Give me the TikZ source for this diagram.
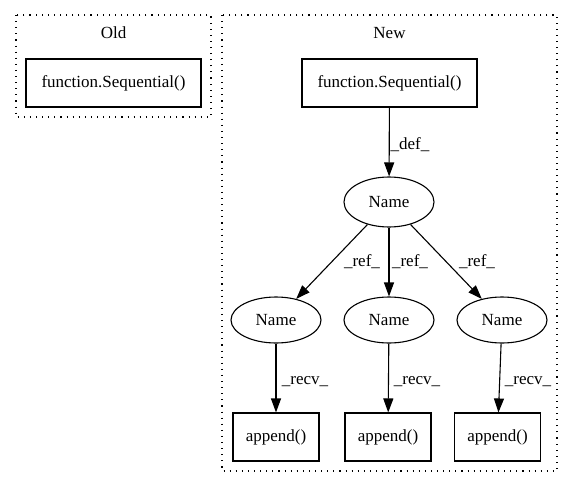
\documentclass[tikz,border=0pt]{standalone}
\usepackage{fontspec}
\setmainfont{Liberation Serif}
\usetikzlibrary{arrows.meta,shapes.geometric}
\begin{document}
\begin{tikzpicture}[x=1pt,y=-1pt,
  cluster/.style={draw,line width=1.1pt,dash pattern=on 1.1pt off 5pt},
  box/.style={draw,line width=1.1pt,rectangle,minimum height=48pt,inner sep=0pt,font=\fontsize{17}{20}\selectfont},
  oval/.style={draw,line width=1.1pt,ellipse,minimum width=90pt,minimum height=48pt,inner sep=0pt,font=\fontsize{17}{20}\selectfont},
  edge/.style={draw,line width=1.1pt,-{Triangle[length=14pt,width=10pt]}},
  lbl/.style={font=\fontsize{17}{20}\selectfont,inner sep=0pt},
  ttl/.style={font=\fontsize{17}{20}\selectfont,inner sep=0pt}]
\useasboundingbox (0,0) rectangle (573,488);
% clusters
\draw[cluster] (16,15) rectangle (211,117);
\node[ttl] (oldt) at (113.5,33) {Old};
\draw[cluster] (222,15) rectangle (557,471);
\node[ttl] (newt) at (389.5,33) {New};
% Old
\node[box,minimum width=175pt] (oldf) at (113.5,83) {function.Sequential()};
% New
\node[box,minimum width=175pt] (newf) at (389.5,83) {function.Sequential()};
\node[oval,minimum height=50pt] (n0) at (389,202) {Name};
\node[oval,minimum height=46pt] (n1) at (276,320) {Name};
\node[oval,minimum height=46pt] (n2) at (389,320) {Name};
\node[oval,minimum height=46pt] (n3) at (502,320) {Name};
\node[box,minimum width=86pt] (a1) at (276,437) {append()};
\node[box,minimum width=86pt] (a2) at (388,437) {append()};
\node[box,minimum width=86pt] (a3) at (497.5,437) {append()};
% edges
\draw[edge] (newf) -- (n0);
\node[lbl] (d0) at (410,145) {\_def\_};
\draw[edge] (n0) -- (n1);
\draw[edge] (n0) -- (n2);
\draw[edge] (n0) -- (n3);
\node[lbl] (r1) at (362,262) {\_ref\_};
\node[lbl] (r2) at (410,262) {\_ref\_};
\node[lbl] (r3) at (477,262) {\_ref\_};
\draw[edge] (n1) -- (a1);
\draw[edge] (n2) -- (a2);
\draw[edge] (n3) -- (a3);
\node[lbl] (c1) at (305,382) {\_recv\_};
\node[lbl] (c2) at (417,382) {\_recv\_};
\node[lbl] (c3) at (528,382) {\_recv\_};
\end{tikzpicture}
\end{document}
